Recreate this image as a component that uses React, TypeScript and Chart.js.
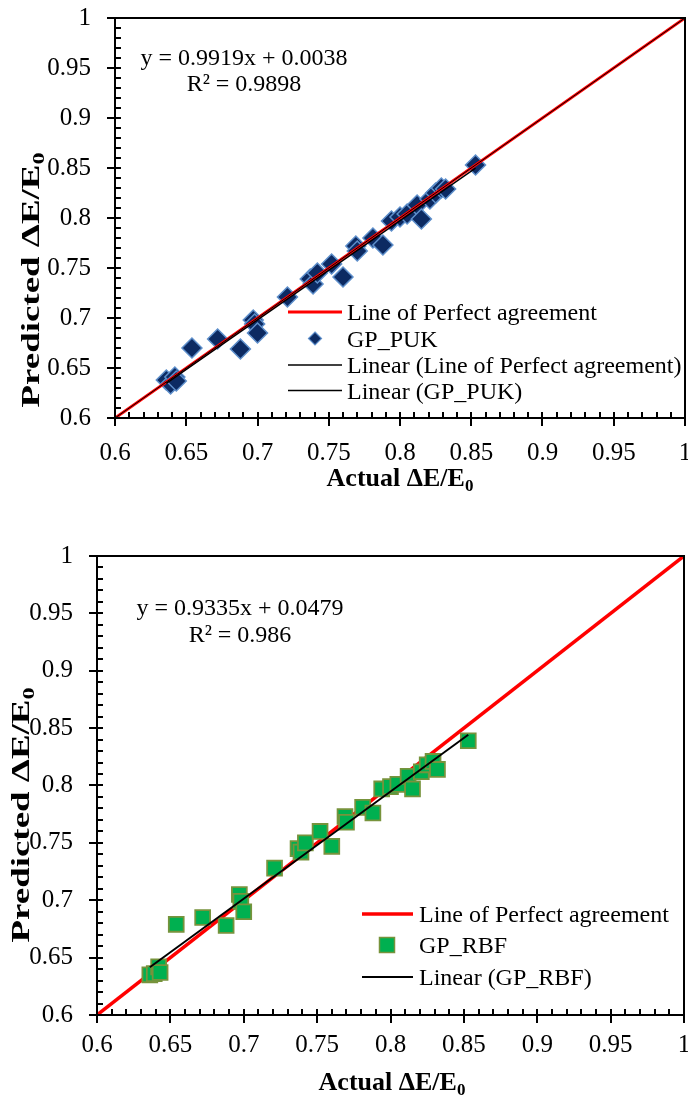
import React, { useEffect, useRef } from 'react';
import { Chart, registerables } from 'chart.js';
Chart.register(...registerables);

// ---- data ----
const actualValues = [0.636, 0.639, 0.642, 0.643, 0.654, 0.672, 0.688, 0.697, 0.698, 0.700, 0.721, 0.737, 0.739, 0.742, 0.752, 0.760, 0.769, 0.770, 0.781, 0.788, 0.794, 0.800, 0.805, 0.812, 0.815, 0.821, 0.825, 0.829, 0.832, 0.853];
const predictedPUK = [0.638, 0.634, 0.641, 0.637, 0.670, 0.679, 0.669, 0.698, 0.694, 0.685, 0.721, 0.739, 0.734, 0.745, 0.754, 0.741, 0.772, 0.767, 0.780, 0.773, 0.797, 0.801, 0.804, 0.813, 0.799, 0.819, 0.825, 0.830, 0.829, 0.853];
const predictedRBF = [0.635, 0.636, 0.642, 0.637, 0.679, 0.685, 0.678, 0.705, 0.699, 0.690, 0.728, 0.745, 0.742, 0.750, 0.760, 0.747, 0.773, 0.768, 0.781, 0.776, 0.797, 0.799, 0.801, 0.808, 0.797, 0.812, 0.818, 0.821, 0.814, 0.839];
const perfectX = [0.6, 1.0];
const perfectY = [0.6, 1.0];
const axisMin = 0.6;
const axisMax = 1.0;
const majorStep = 0.05;
const minorCount = 40; // minor ticks every 0.01
const pukFit = { slope: 0.9919, intercept: 0.0038, r2: '0.9898' };
const rbfFit = { slope: 0.9335, intercept: 0.0479, r2: '0.986' };
const eqPUK = 'y = 0.9919x + 0.0038';
const eqRBF = 'y = 0.9335x + 0.0479';

const SERIF = '"Liberation Serif", "Times New Roman", serif';

type Pt = { x: number; y: number };
const toPts = (xs: number[], ys: number[]): Pt[] => xs.map((x, i) => ({ x, y: ys[i] }));
const trendPts = (fit: { slope: number; intercept: number }): Pt[] => {
  const lo = Math.min(...actualValues);
  const hi = Math.max(...actualValues);
  return [lo, hi].map((x) => ({ x, y: fit.slope * x + fit.intercept }));
};

type LegendItem = { kind: 'line' | 'diamond' | 'square'; color: string; width?: number; border?: string; label: string };

type Spec = {
  top: number;
  width: number;
  height: number;
  area: { left: number; right: number; top: number; bottom: number };
  xPad: number;
  yPad: number;
  datasets: any[];
  eq: { text: string; r2: string; cx: number; b1: number; b2: number };
  legend: { lineX1: number; lineX2: number; textX: number; baselines: number[]; items: LegendItem[]; markerX: number };
  xTitle: { cx: number; baseline: number };
  yTitle: { cy: number; baseline: number; stretch: number };
};

function drawSubText(ctx: CanvasRenderingContext2D, main: string, sub: string, cx: number, baseline: number, size: number) {
  ctx.font = `bold ${size}px ${SERIF}`;
  const w1 = ctx.measureText(main).width;
  const subSize = Math.round(size * 0.65);
  ctx.font = `bold ${subSize}px ${SERIF}`;
  const w2 = ctx.measureText(sub).width;
  const x0 = cx - (w1 + w2) / 2;
  ctx.textAlign = 'left';
  ctx.textBaseline = 'alphabetic';
  ctx.font = `bold ${size}px ${SERIF}`;
  ctx.fillText(main, x0, baseline);
  ctx.font = `bold ${subSize}px ${SERIF}`;
  ctx.fillText(sub, x0 + w1, baseline + size * 0.2);
}

function makeDecor(s: Spec) {
  return {
    id: 'decor',
    afterDraw(chart: any) {
      const ctx: CanvasRenderingContext2D = chart.ctx;
      const xs = chart.scales.x;
      const ys = chart.scales.y;
      const a = chart.chartArea;
      ctx.save();
      // frame top/right
      ctx.strokeStyle = '#000';
      ctx.lineWidth = 2;
      ctx.beginPath();
      ctx.moveTo(a.left, a.top);
      ctx.lineTo(a.right, a.top);
      ctx.lineTo(a.right, a.bottom);
      ctx.stroke();
      // ticks
      ctx.lineWidth = 2;
      for (let i = 0; i <= minorCount; i++) {
        const v = axisMin + ((axisMax - axisMin) * i) / minorCount;
        const major = i % 5 === 0;
        const px = Math.round(xs.getPixelForValue(v));
        const py = Math.round(ys.getPixelForValue(v));
        ctx.beginPath();
        ctx.moveTo(px, a.bottom + (major ? 8 : 0));
        ctx.lineTo(px, a.bottom - 6);
        ctx.moveTo(a.left - (major ? 8 : 0), py);
        ctx.lineTo(a.left + 6, py);
        ctx.stroke();
      }
      // equation
      ctx.fillStyle = '#000';
      ctx.font = `24px ${SERIF}`;
      ctx.textAlign = 'center';
      ctx.textBaseline = 'alphabetic';
      ctx.fillText(s.eq.text, s.eq.cx, s.eq.b1);
      ctx.fillText('R² = ' + s.eq.r2, s.eq.cx, s.eq.b2);
      // legend
      const L = s.legend;
      L.items.forEach((it, i) => {
        const b = L.baselines[i];
        const my = b - 8;
        if (it.kind === 'line') {
          ctx.strokeStyle = it.color;
          ctx.lineWidth = it.width || 2;
          ctx.beginPath();
          ctx.moveTo(L.lineX1, my);
          ctx.lineTo(L.lineX2, my);
          ctx.stroke();
        } else if (it.kind === 'diamond') {
          const r = 6.5;
          ctx.fillStyle = it.color;
          ctx.strokeStyle = it.border || it.color;
          ctx.lineWidth = 1.2;
          ctx.beginPath();
          ctx.moveTo(L.markerX, my - r);
          ctx.lineTo(L.markerX + r, my);
          ctx.lineTo(L.markerX, my + r);
          ctx.lineTo(L.markerX - r, my);
          ctx.closePath();
          ctx.fill();
          ctx.stroke();
        } else {
          const h = 7.5;
          ctx.fillStyle = it.color;
          ctx.strokeStyle = it.border || it.color;
          ctx.lineWidth = 1.5;
          ctx.fillRect(L.markerX - h, my - h, 2 * h, 2 * h);
          ctx.strokeRect(L.markerX - h, my - h, 2 * h, 2 * h);
        }
        ctx.fillStyle = '#000';
        ctx.font = `24px ${SERIF}`;
        ctx.textAlign = 'left';
        ctx.textBaseline = 'alphabetic';
        ctx.fillText(it.label, L.textX, b);
      });
      // axis titles
      ctx.fillStyle = '#000';
      drawSubText(ctx, 'Actual ΔE/E', '0', s.xTitle.cx, s.xTitle.baseline, 26);
      ctx.save();
      ctx.translate(s.yTitle.baseline, s.yTitle.cy);
      ctx.rotate(-Math.PI / 2);
      ctx.scale(s.yTitle.stretch, 1);
      drawSubText(ctx, 'Predicted ΔE/E', '0', 0, 0, 26);
      ctx.restore();
      ctx.restore();
    },
  };
}

function Panel({ spec }: { spec: Spec }) {
  const ref = useRef<HTMLCanvasElement>(null);
  useEffect(() => {
    const s = spec;
    const tickFont = { family: SERIF, size: 25 };
    const fmt = (v: any) => String(Math.round(Number(v) * 100) / 100);
    const chart = new Chart(ref.current as HTMLCanvasElement, {
      type: 'scatter',
      data: { datasets: s.datasets },
      options: {
        responsive: false,
        animation: false,
        devicePixelRatio: 1,
        events: [],
        layout: {
          autoPadding: false,
          padding: { top: s.area.top, right: s.width - s.area.right, left: 0, bottom: 0 },
        },
        plugins: { legend: { display: false }, tooltip: { enabled: false } },
        scales: {
          x: {
            type: 'linear',
            position: 'bottom',
            min: axisMin,
            max: axisMax,
            ticks: { stepSize: majorStep, padding: s.xPad, color: '#000', font: tickFont, maxRotation: 0, autoSkip: false, callback: fmt },
            grid: { display: false, drawTicks: false },
            border: { display: true, color: '#000', width: 2 },
            afterFit: (sc: any) => {
              sc.height = s.height - s.area.bottom;
              sc.paddingLeft = 0; sc.paddingRight = 0; sc.paddingTop = 0; sc.paddingBottom = 0;
            },
          },
          y: {
            type: 'linear',
            position: 'left',
            min: axisMin,
            max: axisMax,
            ticks: { stepSize: majorStep, padding: s.yPad, color: '#000', font: tickFont, autoSkip: false, callback: fmt },
            grid: { display: false, drawTicks: false },
            border: { display: true, color: '#000', width: 2 },
            afterFit: (sc: any) => {
              sc.width = s.area.left;
              sc.paddingLeft = 0; sc.paddingRight = 0; sc.paddingTop = 0; sc.paddingBottom = 0;
            },
          },
        },
      } as any,
      plugins: [makeDecor(s) as any],
    });
    return () => chart.destroy();
  }, [spec]);
  return (
    <canvas
      ref={ref}
      width={spec.width}
      height={spec.height}
      style={{ position: 'absolute', left: 0, top: spec.top, width: spec.width, height: spec.height }}
    />
  );
}

const lineDs = (label: string, data: Pt[], color: string, width: number, order: number) => ({
  label, data, showLine: true, borderColor: color, backgroundColor: color, borderWidth: width,
  pointRadius: 0, fill: false, order,
});

const topSpec: Spec = {
  top: 0,
  width: 688,
  height: 510,
  area: { left: 115, right: 685, top: 18, bottom: 418 },
  xPad: 20,
  yPad: 24,
  datasets: [
    lineDs('Linear (GP_PUK)', trendPts(pukFit), '#000', 1.3, 0),
    lineDs('Linear (Line of Perfect agreement)', toPts(perfectX, perfectY), '#000', 1, 1),
    lineDs('Line of Perfect agreement', toPts(perfectX, perfectY), '#FF0000', 3, 2),
    {
      label: 'GP_PUK', data: toPts(actualValues, predictedPUK), pointStyle: 'rectRot', pointRadius: 10,
      backgroundColor: '#0C2A62', borderColor: '#5E8FCB', borderWidth: 1.5, showLine: false, order: 3,
    },
  ],
  eq: { text: eqPUK, r2: pukFit.r2, cx: 244, b1: 65, b2: 91 },
  legend: {
    lineX1: 288, lineX2: 342, textX: 347, markerX: 315, baselines: [320, 346.5, 373, 398.5],
    items: [
      { kind: 'line', color: '#FF0000', width: 3, label: 'Line of Perfect agreement' },
      { kind: 'diamond', color: '#0C2A62', border: '#5E8FCB', label: 'GP_PUK' },
      { kind: 'line', color: '#000', width: 1.5, label: 'Linear (Line of Perfect agreement)' },
      { kind: 'line', color: '#000', width: 1.5, label: 'Linear (GP_PUK)' },
    ],
  },
  xTitle: { cx: 400, baseline: 486 },
  yTitle: { cy: 280, baseline: 39, stretch: 1.42 },
};

const BOT = 520;
const bottomSpec: Spec = {
  top: BOT,
  width: 688,
  height: 580,
  area: { left: 97, right: 684, top: 556 - BOT, bottom: 1015 - BOT },
  xPad: 15,
  yPad: 24,
  datasets: [
    lineDs('Linear (GP_RBF)', trendPts(rbfFit), '#000', 2, 0),
    {
      label: 'GP_RBF', data: toPts(actualValues, predictedRBF), pointStyle: 'rect', pointRadius: 10.5,
      backgroundColor: '#00B050', borderColor: '#77933C', borderWidth: 1.8, showLine: false, order: 1,
    },
    lineDs('Line of Perfect agreement', toPts(perfectX, perfectY), '#FF0000', 3.5, 2),
  ],
  eq: { text: eqRBF, r2: rbfFit.r2, cx: 240, b1: 615 - BOT, b2: 642 - BOT },
  legend: {
    lineX1: 362, lineX2: 413, textX: 419, markerX: 387, baselines: [922 - BOT, 953 - BOT, 985 - BOT],
    items: [
      { kind: 'line', color: '#FF0000', width: 3.5, label: 'Line of Perfect agreement' },
      { kind: 'square', color: '#00B050', border: '#77933C', label: 'GP_RBF' },
      { kind: 'line', color: '#000', width: 2, label: 'Linear (GP_RBF)' },
    ],
  },
  xTitle: { cx: 392, baseline: 1090 - BOT },
  yTitle: { cy: 815 - BOT, baseline: 29, stretch: 1.42 },
};

export default function App() {
  return (
    <div style={{ position: 'absolute', left: 0, top: 0, width: 688, height: 1100, background: '#fff' }}>
      <Panel spec={topSpec} />
      <Panel spec={bottomSpec} />
    </div>
  );
}
